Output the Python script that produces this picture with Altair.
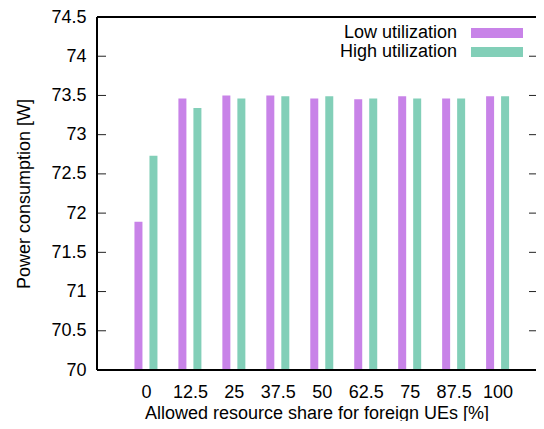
import altair as alt
import pandas as pd

categories = ["0", "12.5", "25", "37.5", "50", "62.5", "75", "87.5", "100"]
low_util = [71.89, 73.46, 73.50, 73.50, 73.46, 73.45, 73.49, 73.46, 73.49]
high_util = [72.73, 73.34, 73.46, 73.49, 73.49, 73.46, 73.46, 73.46, 73.49]
series = ["Low utilization", "High utilization"]
colors = ["#c883e8", "#82cfb8"]
y_ticks = [70, 70.5, 71, 71.5, 72, 72.5, 73, 73.5, 74, 74.5]

W, H = 439, 353
FONT = "Liberation Sans"
FS = 18

df = pd.DataFrame({
    "idx": list(range(len(categories))),
    "cat": categories,
    "low": low_util,
    "high": high_util,
})

label_expr = "[" + ",".join("'%s'" % c for c in categories) + "][datum.value]"

xscale = alt.Scale(domain=[-1, 8.76], nice=False, zero=False)
yscale = alt.Scale(domain=[70, 74.5], nice=False, zero=False)

xax = alt.Axis(values=list(range(len(categories))), labelExpr=label_expr, grid=False,
               ticks=False, domain=False, labelPadding=13, titlePadding=3,
               labelOverlap=False, title="Allowed resource share for foreign UEs [%]")
yax = alt.Axis(values=y_ticks, format="~g", grid=False, ticks=False, domain=False,
               labelPadding=11, titlePadding=17, title="Power consumption [W]",
               labelFlush=False, labelOverlap=False)

low_bars = alt.Chart(df).mark_bar(color=colors[0], width=8, xOffset=-7.5).encode(
    x=alt.X("idx:Q", scale=xscale, axis=xax),
    y=alt.Y("low:Q", scale=yscale, axis=yax),
    y2=alt.datum(70),
)
high_bars = alt.Chart(df).mark_bar(color=colors[1], width=8, xOffset=7.5).encode(
    x=alt.X("idx:Q", scale=xscale, axis=xax),
    y=alt.Y("high:Q", scale=yscale, axis=yax),
    y2=alt.datum(70),
)

tdf = pd.DataFrame({"t": y_ticks})
left_ticks = alt.Chart(tdf).mark_rule(color="#222222", strokeWidth=1).encode(
    x=alt.value(0), x2=alt.value(9), y=alt.Y("t:Q", scale=yscale, axis=yax))
right_ticks = alt.Chart(tdf).mark_rule(color="#222222", strokeWidth=1).encode(
    x=alt.value(W - 7), x2=alt.value(W), y=alt.Y("t:Q", scale=yscale, axis=yax))

bdf = pd.DataFrame({"b": [0]})
top_border = alt.Chart(bdf).mark_rule(color="black", strokeWidth=2).encode(
    x=alt.value(0), x2=alt.value(W), y=alt.value(0))
bottom_border = alt.Chart(bdf).mark_rule(color="black", strokeWidth=2).encode(
    x=alt.value(0), x2=alt.value(W), y=alt.value(H))
left_border = alt.Chart(bdf).mark_rule(color="black", strokeWidth=2).encode(
    x=alt.value(0), y=alt.value(0), y2=alt.value(H))

legend_layers = []
for i, (s, c) in enumerate(zip(series, colors)):
    yc = 16 + 19 * i
    ldf = pd.DataFrame({"s": [s]})
    legend_layers.append(alt.Chart(ldf).mark_text(
        align="right", baseline="middle", font=FONT, fontSize=FS, color="black").encode(
        x=alt.value(360), y=alt.value(yc), text="s:N"))
    legend_layers.append(alt.Chart(ldf).mark_rect(color=c).encode(
        x=alt.value(374), x2=alt.value(426), y=alt.value(yc - 5), y2=alt.value(yc + 5)))

chart = alt.layer(low_bars, high_bars, left_ticks, right_ticks,
                  top_border, bottom_border, left_border, *legend_layers).properties(
    width=W, height=H,
    autosize=alt.AutoSizeParams(type="none"),
    padding={"left": 89, "top": 9, "right": 0, "bottom": 51},
).configure_view(stroke=None).configure_axis(
    labelFont=FONT, titleFont=FONT, labelFontSize=FS, titleFontSize=FS,
    labelColor="black", titleColor="black", titleFontWeight="normal",
    labelOverlap=False,
)

chart.save("out.html", embed_options={"renderer": "svg", "actions": False})
